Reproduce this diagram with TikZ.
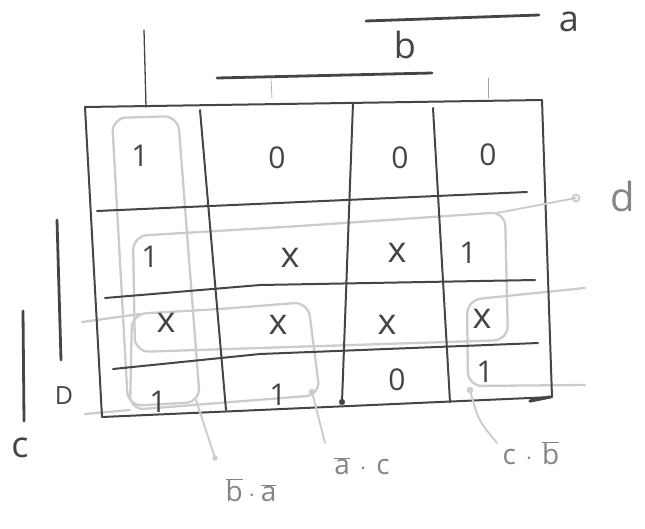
\documentclass[tikz,border=0pt]{standalone}
\usepackage{fontspec}
\setmainfont{Open Sans}

\definecolor{lapiz}{HTML}{454545}
\definecolor{marca}{HTML}{CCCCCC}
\definecolor{rotulo}{HTML}{858585}

\tikzset{
  rejilla/.style={lapiz, line width=2pt},
  barra/.style={lapiz, line width=2.8pt},
  grupo/.style={marca, line width=2.3pt, rounded corners=14pt},
  enlace/.style={marca, line width=1.9pt},
  celda/.style={text=lapiz, font=\fontsize{30}{30}\selectfont},
  cruz/.style={text=lapiz, font=\fontsize{36}{36}\selectfont},
  letra/.style={text=lapiz, font=\fontsize{36}{36}\selectfont},
  etiqueta/.style={text=rotulo, font=\fontsize{28}{28}\selectfont}
}

\begin{document}
\begin{tikzpicture}[x=1pt, y=-1pt, line cap=round, line join=round]
    \useasboundingbox (0,0) rectangle (645,528);

    % Grupos marcados a lapiz claro
    \draw[grupo] (145,117) -- (178,116) -- (200,402) -- (128,406) -- (112,118) -- cycle;
    \draw[grupo] (300,226) -- (505,212) -- (508,340) -- (135,352) -- (133,236) -- cycle;
    \draw[grupo] (220,309) -- (308,302) -- (320,395) -- (130,410) -- (132,314) -- cycle;
    \draw[grupo] (585,288) -- (467,300) -- (468,386) -- (585,385);
    \draw[marca, line width=2.3pt] (82,322) -- (140,314);
    \draw[marca, line width=2.3pt] (85,414) -- (130,410);

    % Marco del mapa
    \draw[rejilla] (85,107) -- (542,100) -- (552,397) -- (102,417) -- cycle;
    \draw[lapiz, line width=3.2pt] (530,401) -- (550,397);

    % Filas
    \draw[rejilla] (97,211) -- (527,192);
    \draw[rejilla] (105,298) -- (260,285) -- (535,280);
    \draw[rejilla] (113,369) -- (260,354) -- (538,343);

    % Columnas
    \draw[rejilla] (200,110) -- (226,410);
    \draw[rejilla] (353,103) -- (342,402);
    \draw[rejilla] (433,108) -- (450,402);
    \filldraw[lapiz] (342,402) circle (2.8pt);

    % Variables a, b arriba
    \coordinate (a0) at (366,21);
    \coordinate (a1) at (539,15);
    \draw[barra] (a0) -- (a1);
    \node[letra] (la) at (569,22) {a};
    \node[letra] (lb) at (405,45) {b};
    \coordinate (b0) at (217,78);
    \coordinate (b1) at (432,73);
    \draw[barra] (b0) -- (b1);
    \draw[lapiz!50, line width=0.6pt] (271,78) -- (272,98);
    \draw[lapiz!50, line width=0.6pt] (488,78) -- (488,98);
    \draw[lapiz, line width=1.3pt] (144,30) -- (146,107);

    % Variables c, d a la izquierda
    \draw[barra] (57,220) -- (61,360);
    \draw[barra] (23,311) -- (24,421);
    \node[text=lapiz, font=\fontsize{25}{25}\selectfont] (ld) at (64,396) {D};
    \node[letra] (lc) at (20,448) {c};

    % Valores de la tabla
    \node[celda] (c11) at (140,156) {1};
    \node[celda] (c12) at (277,158) {0};
    \node[celda] (c13) at (400,158) {0};
    \node[celda] (c14) at (488,155) {0};

    \node[celda] (c21) at (150,257) {1};
    \node[cruz]  (c22) at (290,258) {x};
    \node[cruz]  (c23) at (397,253) {x};
    \node[celda] (c24) at (468,253) {1};

    \node[cruz]  (c31) at (166,323) {x};
    \node[cruz]  (c32) at (278,325) {x};
    \node[cruz]  (c33) at (387,325) {x};
    \node[cruz]  (c34) at (482,319) {x};

    \node[celda] (c41) at (158,402) {1};
    \node[celda] (c42) at (278,395) {1};
    \node[celda] (c43) at (397,380) {0};
    \node[celda] (c44) at (485,372) {1};

    % Etiqueta d
    \coordinate (gD) at (497,213);
    \coordinate (pD) at (576,198);
    \draw[enlace] (gD) -- (pD);
    \draw[enlace] (pD) circle (3.5pt);
    \node[text=rotulo, font=\fontsize{40}{40}\selectfont] (lbd) at (623,196) {d};

    % Etiqueta b.a
    \coordinate (gA) at (196,400);
    \coordinate (pA) at (215,458);
    \draw[enlace] (gA) -- (pA);
    \filldraw[marca] (pA) circle (2.4pt);
    \node[etiqueta] (lba) at (251,490) {$\overline{\mbox{b}}\cdot\overline{\mbox{a}}$};

    % Etiqueta a.c
    \coordinate (gC) at (312,392);
    \coordinate (pC) at (325,443);
    \draw[enlace] (gC) -- (pC);
    \filldraw[marca] (gC) circle (3pt);
    \node[etiqueta] (lac) at (362,466) {$\overline{\mbox{a}}\,\cdot\,\mbox{c}$};

    % Etiqueta c.b
    \coordinate (gB) at (470,390);
    \coordinate (pB) at (497,443);
    \draw[enlace] (gB) .. controls (478,420) .. (pB);
    \filldraw[marca] (gB) circle (3pt);
    \node[etiqueta] (lcb) at (531,453) {$\mbox{c}\,\cdot\,\overline{\mbox{b}}$};
\end{tikzpicture}
\end{document}
